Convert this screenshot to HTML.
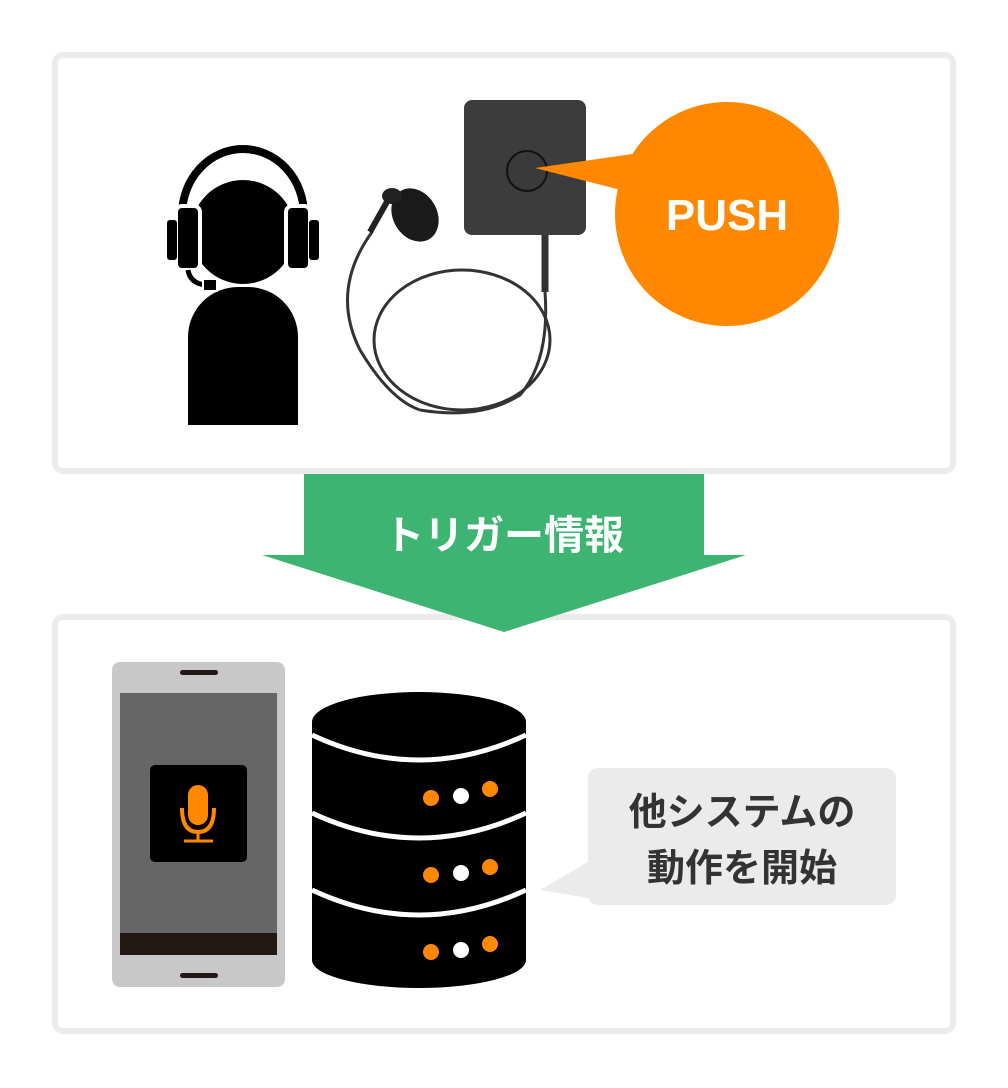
<!DOCTYPE html>
<html><head><meta charset="utf-8"><style>
html,body{margin:0;padding:0;background:#fff;}
svg{display:block;}
text{font-family:"Liberation Sans","Noto Sans CJK JP",sans-serif;font-weight:bold;}
</style></head><body>
<svg width="1008" height="1088" viewBox="0 0 1008 1088">
<rect x="55" y="55" width="898" height="416" rx="8" fill="#fff" stroke="#ebebeb" stroke-width="6"/>
<rect x="55" y="617" width="898" height="414" rx="8" fill="#fff" stroke="#ebebeb" stroke-width="6"/>
<!-- arrow -->
<polygon points="304,474 704,474 704,555 746,555 504,632 262,555 304,555" fill="#3db471"/>
<text x="504" y="549" font-size="40" fill="#fff" text-anchor="middle">トリガー情報</text>
<!-- person -->
<rect x="188" y="287" width="110" height="138" rx="50" fill="#000"/>
<rect x="188" y="340" width="110" height="85" fill="#000"/>
<circle cx="243" cy="232" r="52" fill="#000"/>
<path d="M182 225 L182 215 A61 66 0 0 1 304 215 L304 225" fill="none" stroke="#fff" stroke-width="16"/>
<path d="M182 225 L182 215 A61 66 0 0 1 304 215 L304 225" fill="none" stroke="#000" stroke-width="8"/>
<rect x="176" y="206" width="24" height="64" rx="6" fill="#000" stroke="#fff" stroke-width="4"/>
<rect x="286" y="206" width="24" height="64" rx="6" fill="#000" stroke="#fff" stroke-width="4"/>
<rect x="167" y="220" width="10" height="40" rx="3" fill="#000"/>
<rect x="309" y="220" width="10" height="40" rx="3" fill="#000"/>
<path d="M188 270 Q190 283 205 285" fill="none" stroke="#000" stroke-width="5"/>
<rect x="203" y="279" width="14" height="12" fill="#000" stroke="#fff" stroke-width="2"/>
<!-- device -->
<path d="M545 235 L545 292" stroke="#333" stroke-width="7"/>
<ellipse cx="462" cy="340" rx="88" ry="70" fill="none" stroke="#333" stroke-width="3"/>
<path d="M372 232 Q330 290 360 350 Q390 400 420 410" fill="none" stroke="#333" stroke-width="3"/>
<path d="M545 292 Q550 360 520 395 Q480 420 420 410" fill="none" stroke="#333" stroke-width="3"/>
<path d="M370 232 L388 200" stroke="#222" stroke-width="6"/>
<ellipse cx="415" cy="215" rx="22" ry="28" fill="#1a1a1a" transform="rotate(-30 415 215)"/>
<ellipse cx="392" cy="196" rx="10" ry="8" fill="#222"/>
<rect x="464" y="100" width="122" height="135" rx="8" fill="#3c3c3c"/>
<circle cx="527" cy="171" r="20" fill="#3a3a3a" stroke="#111" stroke-width="2"/>
<!-- push -->
<polygon points="535,168 660,150 660,200" fill="#ff8800"/>
<circle cx="727" cy="214" r="112" fill="#ff8800"/>
<text x="727" y="230" font-size="44" fill="#fff" text-anchor="middle">PUSH</text>
<!-- phone -->
<rect x="112" y="662" width="173" height="325" rx="8" fill="#c8c8c8"/>
<rect x="120" y="693" width="157" height="262" fill="#666"/>
<rect x="120" y="933" width="157" height="22" fill="#231815"/>
<rect x="180" y="670" width="38" height="5" rx="2.5" fill="#231815"/>
<rect x="180" y="973" width="38" height="5" rx="2.5" fill="#231815"/>
<rect x="150" y="765" width="97" height="97" rx="5" fill="#000"/>
<rect x="188" y="785" width="20" height="40" rx="10" fill="#ff8800"/>
<path d="M182 808 Q182 832 198 832 Q214 832 214 808" fill="none" stroke="#ff8800" stroke-width="4"/>
<path d="M198 832 L198 840 M184 841 L213 841" stroke="#ff8800" stroke-width="3"/>
<!-- server -->
<path d="M312 722 L312 960 A107 28 0 0 0 526 960 L526 722 Z" fill="#000"/>
<ellipse cx="419" cy="722" rx="107" ry="30" fill="#000"/>
<path d="M312 735 Q419 785 526 735" fill="none" stroke="#fff" stroke-width="5"/>
<path d="M312 813 Q419 863 526 813" fill="none" stroke="#fff" stroke-width="5"/>
<path d="M312 890 Q419 940 526 890" fill="none" stroke="#fff" stroke-width="5"/>
<g fill="#ff8800">
<circle cx="431" cy="798" r="8"/><circle cx="490" cy="789" r="8"/>
<circle cx="431" cy="875" r="8"/><circle cx="490" cy="867" r="8"/>
<circle cx="431" cy="952" r="8"/><circle cx="490" cy="944" r="8"/>
</g>
<g fill="#fff">
<circle cx="461" cy="796" r="8"/><circle cx="461" cy="873" r="8"/><circle cx="461" cy="950" r="8"/>
</g>
<!-- bubble -->
<polygon points="540,890 600,855 600,900" fill="#ebebeb"/>
<rect x="588" y="768" width="308" height="137" rx="10" fill="#ebebeb"/>
<text x="742" y="825" font-size="38" fill="#333" text-anchor="middle">他システムの</text>
<text x="742" y="881" font-size="38" fill="#333" text-anchor="middle">動作を開始</text>
</svg>
</body></html>
